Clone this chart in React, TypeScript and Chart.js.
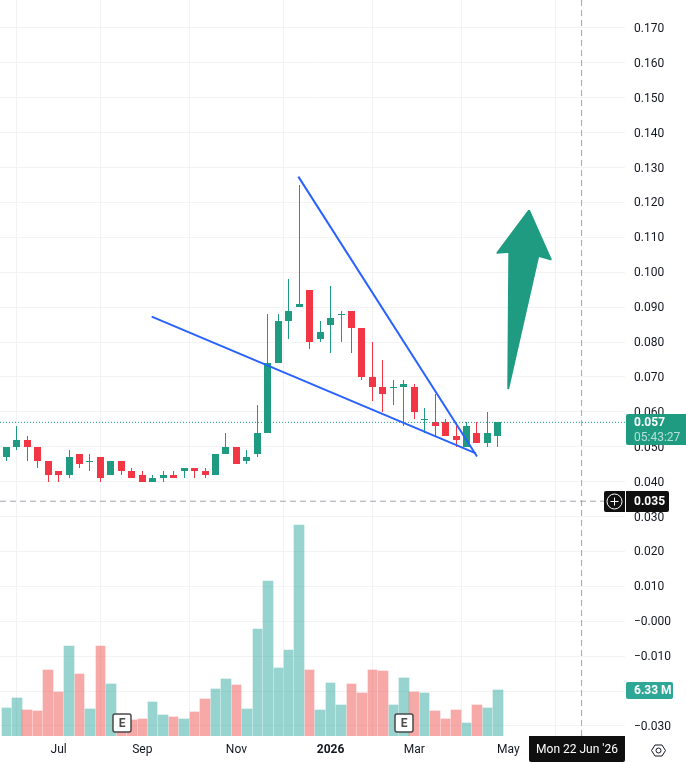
import React, { useEffect, useRef } from "react";
import { Chart, registerables } from "chart.js";

Chart.register(...registerables);

const FONT = "Roboto, 'Noto Sans', sans-serif";
const GREEN = "#1f9b82";
const RED = "#f23645";

const opens = [0.047,0.05,0.052,0.05,0.046,0.043,0.042,0.048,0.046,0.047,0.042,0.046,0.043,0.042,0.04,0.041,0.042,0.043,0.044,0.043,0.042,0.048,0.05,0.046,0.048,0.054,0.074,0.086,0.09,0.095,0.081,0.085,0.088,0.089,0.084,0.07,0.067,0.067,0.067,0.067,0.058,0.057,0.057,0.053,0.05,0.054,0.051,0.053];
const closes = [0.05,0.052,0.05,0.046,0.042,0.042,0.047,0.045,0.046,0.041,0.046,0.043,0.041,0.04,0.041,0.042,0.041,0.044,0.043,0.042,0.048,0.05,0.045,0.047,0.054,0.074,0.086,0.089,0.091,0.08,0.083,0.087,0.088,0.084,0.07,0.067,0.065,0.067,0.068,0.06,0.058,0.056,0.053,0.052,0.056,0.051,0.054,0.057];
const highs = [0.05,0.056,0.053,0.05,0.046,0.043,0.049,0.048,0.048,0.047,0.046,0.046,0.044,0.043,0.042,0.043,0.043,0.044,0.044,0.044,0.048,0.054,0.05,0.049,0.062,0.088,0.088,0.098,0.125,0.095,0.086,0.096,0.089,0.089,0.084,0.08,0.075,0.069,0.069,0.068,0.061,0.065,0.058,0.056,0.057,0.057,0.06,0.057];
const lows = [0.046,0.049,0.046,0.044,0.04,0.04,0.041,0.044,0.043,0.04,0.042,0.042,0.041,0.04,0.04,0.04,0.041,0.041,0.041,0.041,0.042,0.048,0.045,0.045,0.047,0.054,0.074,0.081,0.09,0.078,0.08,0.077,0.08,0.077,0.069,0.063,0.06,0.062,0.056,0.058,0.054,0.053,0.053,0.05,0.05,0.051,0.05,0.05];
const volumes = [3.85,5.23,3.58,3.44,9.08,6.05,12.38,8.53,3.72,12.38,7.16,1.8,2.2,2.34,4.68,2.89,2.61,2.34,3.3,5.09,6.47,7.84,7.02,3.72,14.72,21.33,9.36,11.83,29.04,9.08,3.58,7.29,4.27,7.16,5.92,9.08,8.94,4.27,7.98,6.05,5.92,3.44,2.34,3.58,1.79,4.27,3.85,6.33];

const monthTicks = [5, 13, 22, 31, 39, 48, 57];
const monthLabels = ["Jul", "Sep", "Nov", "2026", "Mar", "May", ""];

const upperX = [27.92, 45];
const upperY = [0.1274, 0.0472];
const lowerX = [13.9, 44.9];
const lowerY = [0.0873, 0.0481];
const arrowX = [49.97, 52.05, 50.86, 47.99, 48.09, 46.95, 49.97];
const arrowY = [0.1177, 0.1037, 0.1047, 0.0668, 0.1059, 0.1056, 0.1177];

const lastPrice = 0.057;
const cursorPrice = 0.0344;
const cursorIndex = 55;
const lastVolume = 6.33;
const earningsIndexes = [11, 38];

const X_MIN = -0.602, X_MAX = 59.15, Y_MIN = -0.03287, Y_MAX = 0.17802, VOL_MAX = 101.3;

const idx = closes.map((_, i) => i);

function roundRect(c: CanvasRenderingContext2D, x: number, y: number, w: number, h: number, r: number | number[], fill: string) {
  c.beginPath();
  c.roundRect(x, y, w, h, r);
  c.fillStyle = fill;
  c.fill();
}

const zeroPadding = (s: any) => {
  s.paddingTop = 0;
  s.paddingBottom = 0;
  s.paddingLeft = 0;
  s.paddingRight = 0;
};

const snapPlugin = {
  id: "snap",
  afterDatasetsUpdate(chart: any) {
    chart.data.datasets.forEach((ds: any, di: number) => {
      if (!ds.snap) return;
      chart.getDatasetMeta(di).data.forEach((el: any) => {
        if (ds.snap === "vol") {
          const l = Math.round(el.x - 4.75), r = Math.round(el.x + 4.75);
          el.x = (l + r) / 2;
          el.width = r - l;
        } else {
          const col = Math.floor(el.x);
          el.x = col + 0.5;
          el.width = ds.snap === "wick" ? 1 : 7;
        }
        el.y = Math.round(el.y);
        el.base = Math.round(el.base);
        if (ds.snap === "body" && el.base === el.y) el.base = el.y + 1;
      });
    });
  },
};

const overlayPlugin = {
  id: "overlay",
  afterDraw(chart: any) {
    const c: CanvasRenderingContext2D = chart.ctx;
    const { x, y, yVol } = chart.scales;
    const area = chart.chartArea;
    const W = chart.width, H = chart.height;
    c.save();
    c.textBaseline = "middle";
    c.textAlign = "left";

    // Last-price tag
    const py = Math.round(y.getPixelForValue(lastPrice));
    roundRect(c, area.right + 1, py - 8, W - area.right - 1, 31, [2, 0, 0, 2], "#1f9b82");
    c.fillStyle = "#ffffff";
    c.font = `bold 12px ${FONT}`;
    c.fillText("0.057", 634, py + 0.5);
    c.fillStyle = "#b5e0d7";
    c.font = `12px ${FONT}`;
    c.fillText("05:43:27", 634, py + 15.5);

    // Cursor price tag with plus button
    const cy = Math.round(y.getPixelForValue(cursorPrice));
    roundRect(c, area.right + 1, cy - 10, 43, 21, [0, 2, 2, 0], "#0f0f0f");
    c.fillStyle = "#ffffff";
    c.font = `bold 12px ${FONT}`;
    c.fillText("0.035", 634, cy + 0.5);
    roundRect(c, area.right - 21, cy - 10, 21, 21, [2, 0, 0, 2], "#0f0f0f");
    const bx = area.right - 10.5;
    c.strokeStyle = "#ffffff";
    c.lineWidth = 1;
    c.beginPath();
    c.arc(bx, cy + 0.5, 7.5, 0, Math.PI * 2);
    c.stroke();
    c.beginPath();
    c.moveTo(bx - 4, cy + 0.5);
    c.lineTo(bx + 4, cy + 0.5);
    c.moveTo(bx, cy - 3.5);
    c.lineTo(bx, cy + 4.5);
    c.stroke();

    // Volume tag
    const vy = Math.round(yVol.getPixelForValue(lastVolume));
    roundRect(c, area.right + 1, vy - 8, 47, 17, 2, "#2fa796");
    c.fillStyle = "#ffffff";
    c.font = `bold 12px ${FONT}`;
    c.fillText("6.33 M", 634, vy + 1);

    // Date tag
    roundRect(c, area.right - 96, area.bottom, 96, H - area.bottom, [0, 0, 2, 2], "#0f0f0f");
    c.fillStyle = "#ffffff";
    c.font = `12px ${FONT}`;
    c.textAlign = "center";
    c.fillText("Mon 22 Jun '26", area.right - 48, area.bottom + 14);

    // Earnings markers
    earningsIndexes.forEach((i) => {
      const ex = Math.floor(x.getPixelForValue(i)) + 0.5;
      c.beginPath();
      c.roundRect(ex - 8.5, 714, 18, 18, 2);
      c.fillStyle = "#ffffff";
      c.fill();
      c.strokeStyle = "#4a4a4a";
      c.lineWidth = 1.5;
      c.stroke();
      c.fillStyle = "#4a4a4a";
      c.font = `bold 12px ${FONT}`;
      c.fillText("E", ex + 0.5, 723.5);
    });

    // Settings icon
    const sx = 658.5, sy = 750.5;
    c.strokeStyle = "#131722";
    c.lineWidth = 1;
    c.beginPath();
    [[-7, 0], [-3.5, -5.5], [3.5, -5.5], [7, 0], [3.5, 5.5], [-3.5, 5.5]].forEach(([dx, dy], k) => {
      if (k === 0) c.moveTo(sx + dx, sy + dy);
      else c.lineTo(sx + dx, sy + dy);
    });
    c.closePath();
    c.stroke();
    c.beginPath();
    c.arc(sx, sy, 2.5, 0, Math.PI * 2);
    c.stroke();
    c.restore();
  },
};

const line = (xs: number[], ys: number[], extra: any) => ({
  type: "line" as const,
  data: xs.map((v, i) => ({ x: v, y: ys[i] })),
  pointRadius: 0,
  tension: 0,
  yAxisID: "y",
  ...extra,
});

export default function App() {
  const ref = useRef<HTMLCanvasElement>(null);
  useEffect(() => {
    document.body.style.margin = "0";
    const chart = new Chart(ref.current as HTMLCanvasElement, {
      type: "bar",
      plugins: [snapPlugin, overlayPlugin],
      data: {
        datasets: [
          {
            label: "Volume",
            snap: "vol",
            data: idx.map((i) => ({ x: i, y: volumes[i] })),
            backgroundColor: idx.map((i) => (closes[i] >= opens[i] ? "rgba(38,166,154,0.48)" : "rgba(239,83,80,0.5)")),
            yAxisID: "yVol",
            order: 6,
            grouped: false,
            barPercentage: 1,
            categoryPercentage: 1,
          },
          {
            label: "Wick",
            snap: "wick",
            data: idx.map((i) => ({ x: i, y: [lows[i], highs[i]] })),
            backgroundColor: idx.map((i) => (closes[i] >= opens[i] ? GREEN : RED)),
            yAxisID: "y",
            order: 5,
            grouped: false,
          },
          {
            label: "Body",
            snap: "body",
            data: idx.map((i) => ({ x: i, y: [opens[i], closes[i]] })),
            backgroundColor: idx.map((i) => (closes[i] >= opens[i] ? GREEN : RED)),
            yAxisID: "y",
            order: 4,
            grouped: false,
          },
          line([X_MIN, X_MAX], [lastPrice, lastPrice], { label: "Last", borderColor: GREEN, borderWidth: 1, borderDash: [1, 2], order: 3 }),
          line([X_MIN, X_MAX], [cursorPrice, cursorPrice], { label: "CursorH", borderColor: "#a3a6ae", borderWidth: 1, borderDash: [6, 4], order: 3 }),
          line([cursorIndex, cursorIndex], [Y_MIN, Y_MAX], { label: "CursorV", borderColor: "#a3a6ae", borderWidth: 1, borderDash: [6, 4], order: 3 }),
          line(upperX, upperY, { label: "Upper", borderColor: "#2962ff", borderWidth: 2, order: 2 }),
          line(lowerX, lowerY, { label: "Lower", borderColor: "#2962ff", borderWidth: 2, order: 2 }),
          line(arrowX, arrowY, { label: "Arrow", borderColor: GREEN, backgroundColor: GREEN, borderWidth: 2, borderJoinStyle: "round", fill: "shape", order: 1 }),
        ] as any,
      },
      options: {
        responsive: false,
        animation: false,
        events: [],
        layout: { padding: 0 },
        plugins: { legend: { display: false }, tooltip: { enabled: false } },
        scales: {
          x: {
            type: "linear",
            min: X_MIN,
            max: X_MAX,
            offset: false,
            border: { display: false },
            grid: { color: "#f2f2f4", drawTicks: false },
            afterBuildTicks: (s: any) => {
              s.ticks = monthTicks.map((value) => ({ value }));
            },
            afterFit: (s: any) => {
              s.height = 26;
              zeroPadding(s);
            },
            ticks: {
              autoSkip: false,
              maxRotation: 0,
              padding: 7,
              color: "#131722",
              font: (ctx: any) => ({ family: FONT, size: 12, weight: ctx.tick && ctx.tick.value === 31 ? "bold" : "normal" }),
              callback: (v: any) => monthLabels[monthTicks.indexOf(v)] ?? "",
            },
          },
          y: {
            type: "linear",
            position: "right",
            min: Y_MIN,
            max: Y_MAX,
            border: { display: false },
            grid: { color: "#f3f3f3", drawTicks: false },
            afterFit: (s: any) => {
              s.width = 61;
              zeroPadding(s);
            },
            ticks: {
              stepSize: 0.01,
              includeBounds: false,
              autoSkip: false,
              padding: 9,
              labelOffset: 1,
              color: "#131722",
              font: { family: FONT, size: 12 },
              callback: (v: any) => (v < 0.0005 ? "\u2212" : "") + Math.abs(v).toFixed(3),
            },
          },
          yVol: {
            type: "linear",
            display: false,
            min: 0,
            max: VOL_MAX,
          },
        },
      } as any,
    });
    return () => chart.destroy();
  }, []);
  return <canvas ref={ref} width={686} height={762} style={{ display: "block" }} />;
}
